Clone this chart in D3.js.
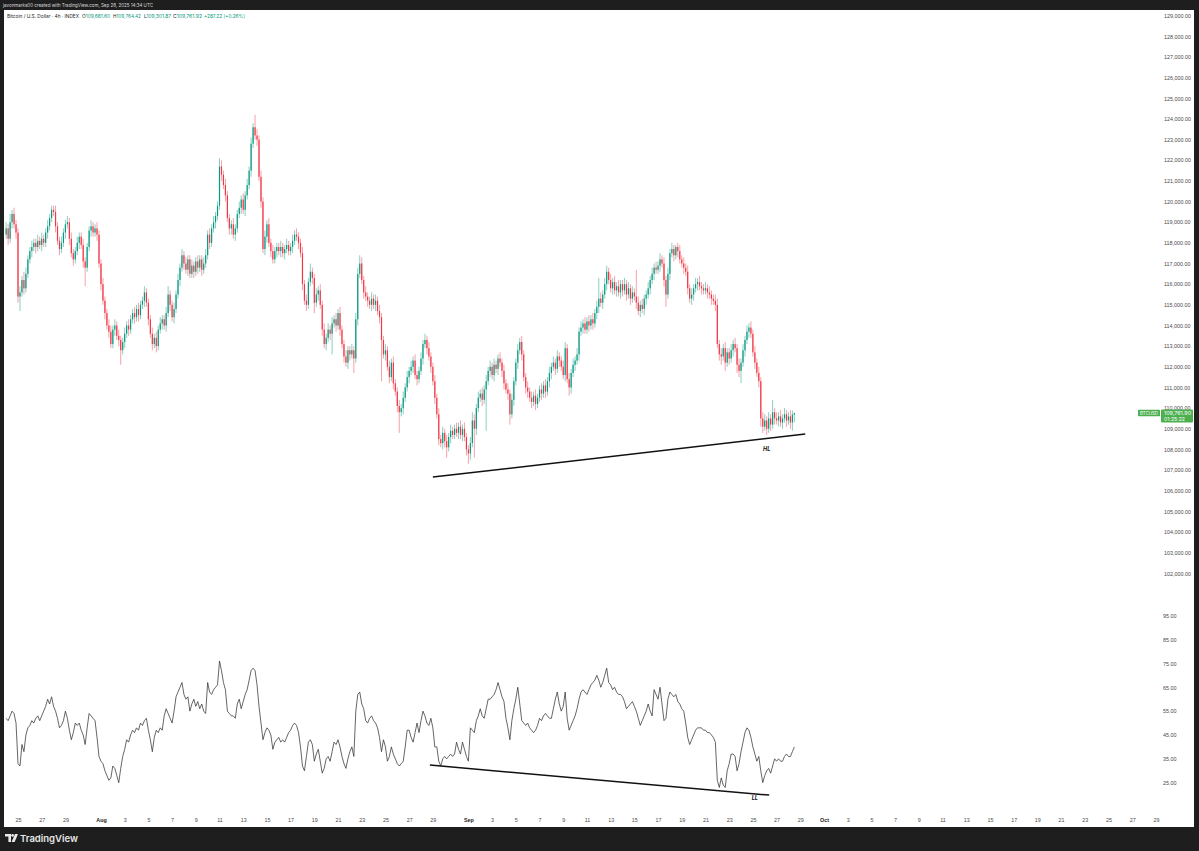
<!DOCTYPE html>
<html>
<head>
<meta charset="utf-8">
<script src="https://cdn.jsdelivr.net/npm/d3@7"></script>
<style>
  body { margin: 0; background: #1e1e1e; }
  svg { display: block; font-family: Inter, "Noto Sans", sans-serif; }
</style>
</head>
<body>
<svg id="chart" width="1199" height="851"></svg>
<script>
// BTC / USD index, 4h candles from 2025-07-24 00:00 UTC, prices in $100 units
const startTime = Date.UTC(2025, 6, 24)
const open0 = 1184
const close100 = [
  1187,1182,1190,1194,1189,1185, 1154,1156,1162,1158,1165,1172, 1176,1178,1180,1178,1181,1179,
  1182,1180,1185,1188,1192,1196, 1195,1188,1181,1177,1180,1185, 1189,1190,1182,1175,1172,1176,
  1180,1183,1179,1171,1168,1178, 1186,1188,1185,1187,1184,1170, 1160,1152,1146,1140,1137,1131,
  1138,1140,1135,1133,1128,1132, 1136,1140,1138,1143,1146,1144, 1148,1145,1150,1152,1156,1151,
  1143,1136,1131,1134,1130,1138, 1141,1143,1140,1146,1155,1150, 1144,1148,1155,1162,1168,1174,
  1170,1167,1172,1165,1169,1166, 1171,1168,1172,1167,1170,1174, 1184,1180,1187,1190,1193,1198,
  1217,1213,1208,1203,1192,1187, 1189,1184,1187,1194,1197,1201, 1196,1203,1208,1215,1228,1236,
  1232,1230,1212,1200,1177,1183, 1189,1180,1176,1172,1176,1178, 1176,1178,1175,1177,1179,1176,
  1178,1181,1184,1183,1180,1175, 1160,1152,1150,1161,1166,1163, 1151,1155,1157,1150,1138,1131,
  1134,1138,1136,1141,1143,1140, 1146,1138,1131,1125,1122,1128, 1126,1128,1124,1143,1165,1170,
  1162,1156,1154,1152,1150,1153, 1150,1152,1147,1144,1133,1126, 1128,1120,1115,1122,1112,1108,
  1101,1098,1100,1105,1110,1115, 1118,1120,1123,1116,1114,1118, 1124,1131,1133,1129,1125,1120,
  1113,1105,1097,1085,1083,1088, 1084,1081,1086,1089,1087,1090, 1088,1091,1087,1090,1086,1080,
  1078,1083,1094,1090,1100,1105, 1107,1104,1109,1113,1118,1120, 1116,1121,1119,1124,1122,1118,
  1112,1109,1107,1097,1104,1113, 1122,1128,1132,1126,1115,1110, 1108,1105,1103,1106,1102,1105,
  1109,1107,1111,1108,1113,1117, 1120,1122,1119,1125,1123,1120, 1116,1129,1114,1110,1117,1121,
  1123,1126,1137,1139,1141,1138, 1142,1140,1143,1141,1146,1149, 1153,1151,1155,1160,1166,1162,
  1158,1161,1157,1159,1156,1160, 1157,1160,1155,1158,1153,1156, 1154,1151,1147,1150,1148,1153,
  1155,1158,1162,1165,1168,1167, 1169,1172,1170,1162,1155,1165, 1175,1177,1174,1178,1176,1172,
  1170,1168,1166,1158,1153,1155, 1158,1160,1161,1159,1158,1157, 1158,1156,1155,1153,1152,1150,
  1131,1126,1125,1129,1122,1127, 1124,1128,1131,1129,1121,1118, 1122,1128,1133,1137,1139,1136,
  1127,1122,1117,1113,1095,1091, 1094,1090,1095,1092,1098,1095, 1094,1096,1093,1095,1097,1094,
  1096,1093,1096.816,1097.619
]
// wick length above / below the body, $100 units
const wickUp = [
  3,2,4,2,3,2, 2,3,2,4,3,2, 2,3,2,2,3,2,
  3,2,2,3,2,2, 2,3,2,2,3,2, 2,3,2,3,2,2,
  3,2,2,3,2,2, 2,3,2,2,3,2, 2,3,2,2,3,3,
  2,3,2,3,2,2, 3,2,3,2,2,3, 2,3,2,2,3,2,
  2,2,3,2,3,2, 3,2,2,3,4,2, 2,3,2,3,2,3,
  2,3,2,2,3,2, 2,3,2,2,3,3, 2,3,2,3,2,2,
  4,3,2,3,2,2, 2,3,2,2,3,2, 3,2,3,2,3,2,
  6,3,2,3,2,3, 2,3,2,3,2,2, 2,3,2,2,3,2,
  2,3,2,3,2,2, 3,2,3,2,4,2, 2,3,2,3,2,3,
  2,3,2,3,2,3, 2,3,2,2,3,2, 2,3,2,3,3,4,
  3,2,3,2,2,3, 2,3,2,3,2,2, 3,2,3,2,3,2,
  2,3,2,3,2,3, 2,3,2,3,2,2, 3,2,3,2,3,2,
  2,3,2,3,2,3, 2,3,2,3,2,2, 3,2,3,2,3,2,
  2,3,4,3,2,3, 2,3,2,3,2,3, 2,3,2,2,3,2,
  3,2,3,2,3,2, 2,3,2,3,2,2, 3,2,3,2,3,2,
  2,3,2,3,2,3, 2,3,2,3,2,2, 3,3,2,3,2,3,
  2,3,2,3,2,3, 2,3,2,3,2,3, 10,3,2,3,3,2,
  3,2,3,2,3,2, 2,3,2,3,2,3, 2,13,3,2,3,2,
  2,3,2,3,2,3, 2,3,2,3,2,3, 2,3,2,1,2,3,
  2,3,2,3,2,3, 2,3,2,3,2,2, 3,2,3,2,2,3,
  3,2,3,2,3,2, 2,3,2,3,2,3, 2,3,2,3,2,3,
  2,3,2,3,2,3, 3,2,3,2,6,2, 3,2,3,2,3,2,
  2,3,2,0.02
]
const wickDn = [
  2,3,2,3,2,3, 3,7,2,3,2,2, 2,3,2,3,2,2,
  3,2,2,3,2,2, 2,3,2,3,2,2, 3,2,3,2,3,2,
  2,3,2,3,9,2, 2,3,2,2,3,2, 3,2,3,2,3,2,
  2,3,2,3,7,2, 3,2,3,2,2,3, 2,3,2,2,3,2,
  3,2,3,2,3,2, 2,3,2,3,2,3, 2,3,2,2,3,2,
  3,2,3,2,2,3, 2,3,2,3,2,2, 2,3,2,2,3,2,
  2,3,2,3,2,3, 3,2,3,2,2,3, 2,3,2,2,3,2,
  2,3,2,3,2,3, 3,2,3,2,2,3, 2,3,2,3,2,2,
  2,3,2,2,3,2, 3,2,3,2,2,3, 5,2,3,2,3,2,
  3,2,3,10,2,3, 2,3,2,3,2,3, 3,2,7,2,3,2,
  2,3,2,3,2,3, 2,3,2,3,20,2, 3,2,3,2,3,2,
  3,10,2,3,2,2, 3,2,3,2,3,2, 2,3,2,3,2,3,
  2,3,2,3,2,3, 3,5,2,3,2,2, 2,3,2,3,2,3,
  5,3,2,14,3,2, 2,3,2,20,2,3, 2,3,2,3,2,3,
  3,2,3,5,2,3, 2,3,2,3,2,3, 3,2,3,2,3,2,
  2,3,2,3,2,3, 3,2,3,2,3,2, 2,3,2,4,3,2,
  3,2,3,2,3,2, 2,3,2,3,2,3, 3,2,3,2,3,2,
  2,3,2,3,2,3, 3,2,3,2,3,2, 2,3,2,3,2,3,
  3,2,3,2,3,2, 2,3,2,3,6,2, 3,2,3,2,3,2,
  2,3,2,3,2,3, 3,2,3,2,3,2, 2,3,2,3,2,3,
  2,3,4,2,4,2, 3,2,3,2,4,3, 6,2,3,2,3,2,
  2,3,2,3,4,3, 2,3,2,3,2,3, 2,3,2,3,2,3,
  2,3,4,3.8
]
// RSI, one value per candle
const rsi = [
  52,51,53,55,54,50, 33,32,41,38,45,48, 49,51,50,52,53,51,
  53,55,57,60,58,61, 57,55,52,48,49,51, 55,52,47,43,46,50,
  49,50,47,45,41,48, 54,53,52,51,44,36, 34,33,30,28,26,27,
  32,31,28,25,31,36, 39,43,42,45,47,46, 48,47,50,49,51,52,
  47,43,38,44,47,46, 48,47,53,56,54,52, 50,55,61,63,65,67,
  62,60,61,55,58,60, 57,59,56,58,55,54, 67,63,62,64,65,66,
  76,72,67,64,55,54, 53,53,52,58,60,56, 59,62,64,68,72,73,
  72,66,57,50,43,46, 48,47,45,39,42,43, 44,42,43,42,44,46,
  47,49,50,49,46,40, 32,30,36,42,43,41, 34,37,39,34,29,31,
  35,36,34,38,42,41, 43,40,36,33,31,35, 38,40,36,55,62,63,
  58,56,51,50,52,53, 51,50,48,44,38,43, 40,34,36,40,37,35,
  33,32,33,34,40,47, 47,44,42,46,50,46, 51,55,53,50,49,52,
  48,40,40,34,32,35, 36,35,36,37,36,37, 42,39,37,42,39,36,
  34,48,47,46,51,53, 56,53,52,56,60,60, 61,62,64,67,64,61,
  59,52,48,43,51,56, 60,65,58,51,50,49, 50,48,47,46,47,49,
  52,51,53,54,53,52, 52,56,60,63,58,55, 57,63,52,47,49,51,
  53,56,60,63,64,63, 62,64,66,67,68,70, 68,65,67,70,73,67,
  66,64,65,63,62,62, 61,59,56,57,58,59, 57,55,52,49,51,53,
  55,58,55,53,64,62, 60,65,58,51,52,60, 63,62,61,62,59,58,
  56,55,50,44,41,43, 45,47,48,48,48,47, 47,46,46,45,44,42,
  26,23,27,24,23,30, 33,37,37,36,30,33, 38,42,46,48,47,44,
  40,37,34,36,30,25, 28,30,31,29,32,35, 34,35,34,34,36,37,
  36,36,38,40
]

const priceTicks = d3.range(102000, 129001, 1000)
const rsiTicks = [25, 35, 45, 55, 65, 75, 85, 95]

// drawn annotations: [time, value]
const priceTrend = [[Date.UTC(2025, 7, 29, 0), 106660], [Date.UTC(2025, 8, 29, 10), 108740]]
const rsiTrend = [[Date.UTC(2025, 7, 28, 18), 32.4], [Date.UTC(2025, 8, 26, 9), 19.8]]
const notes = [
    { text: 'HL', t: Date.UTC(2025, 8, 26, 4), v: 108000, pane: 'price' },
    { text: 'LL', t: Date.UTC(2025, 8, 25, 4), v: 18.5, pane: 'rsi' }
]

const legend = {
    title: 'Bitcoin / U.S. Dollar · 4h · INDEX',
    o: '109,681.60', h: '109,764.42', l: '109,301.87', c: '109,761.92', chg: '+287.22 (+0.26%)'
}

const UP = '#089981', DOWN = '#f23645', LABEL_GREEN = '#4caf50'
const HOUR = 3600 * 1000

const svg = d3.select('#chart')

// frame
svg.append('rect').attr('width', 1199).attr('height', 851).attr('fill', '#1e1e1e')
svg.append('rect').attr('x', 4).attr('y', 10).attr('width', 1190).attr('height', 817).attr('fill', '#ffffff')

// scales
const x = d3.scaleUtc()
    .domain([new Date(Date.UTC(2025, 6, 25)), new Date(Date.UTC(2025, 9, 1))])
    .range([18, 824])
const y = d3.scaleLinear().domain([102000, 129000]).range([573.3, 15.7])
const yRsi = d3.scaleLinear().domain([25, 95]).range([782.7, 615.7])

const candles = close100.map((c, i) => {
    const o = i ? close100[i - 1] : open0
    return {
        t: new Date(startTime + i * 4 * HOUR),
        o: o * 100,
        c: c * 100,
        h: (Math.max(o, c) + wickUp[i]) * 100,
        l: (Math.min(o, c) - wickDn[i]) * 100
    }
})

// candles
const cg = svg.append('g').attr('class', 'candles')
const bars = cg.selectAll('g').data(candles).join('g')
bars.append('line')
    .attr('x1', d => x(d.t)).attr('x2', d => x(d.t))
    .attr('y1', d => y(d.h)).attr('y2', d => y(d.l))
    .attr('stroke', d => d.c >= d.o ? UP : DOWN)
    .attr('stroke-width', 0.6)
    .attr('stroke-opacity', 0.8)
bars.append('rect')
    .attr('x', d => x(d.t) - 0.6)
    .attr('width', 1.2)
    .attr('y', d => y(Math.max(d.o, d.c)))
    .attr('height', d => Math.max(0.7, Math.abs(y(d.o) - y(d.c))))
    .attr('fill', d => d.c >= d.o ? UP : DOWN)

// rsi line
const rsiLine = d3.line()
    .x((d, i) => x(candles[i].t))
    .y(d => yRsi(d))
svg.append('path').datum(rsi)
    .attr('d', rsiLine)
    .attr('fill', 'none')
    .attr('stroke', '#333')
    .attr('stroke-width', 0.75)
    .attr('stroke-linejoin', 'round')

// trend lines
svg.append('line')
    .attr('x1', x(priceTrend[0][0])).attr('y1', y(priceTrend[0][1]))
    .attr('x2', x(priceTrend[1][0])).attr('y2', y(priceTrend[1][1]))
    .attr('stroke', '#111').attr('stroke-width', 1.5)
svg.append('line')
    .attr('x1', x(rsiTrend[0][0])).attr('y1', yRsi(rsiTrend[0][1]))
    .attr('x2', x(rsiTrend[1][0])).attr('y2', yRsi(rsiTrend[1][1]))
    .attr('stroke', '#111').attr('stroke-width', 1.5)

svg.selectAll('.note').data(notes).join('text').attr('class', 'note')
    .attr('x', d => x(d.t))
    .attr('y', d => (d.pane === 'price' ? y(d.v) : yRsi(d.v)) + 2)
    .attr('text-anchor', 'middle')
    .style('font-size', '5.5px')
    .style('font-weight', 'bold')
    .style('font-style', 'italic')
    .attr('fill', '#111')
    .text(d => d.text)

// price axis
const priceAxis = svg.append('g')
    .attr('transform', 'translate(1164,0)')
    .call(d3.axisRight(y).tickValues(priceTicks).tickFormat(d3.format(',.2f')).tickSize(0).tickPadding(0))
priceAxis.select('.domain').remove()
priceAxis.selectAll('text').style('font-size', '5.4px').attr('fill', '#4a4a4a').attr('font-family', null)

// rsi axis
const rsiAxis = svg.append('g')
    .attr('transform', 'translate(1163,0)')
    .call(d3.axisRight(yRsi).tickValues(rsiTicks).tickFormat(d3.format('.2f')).tickSize(0).tickPadding(0))
rsiAxis.select('.domain').remove()
rsiAxis.selectAll('text').style('font-size', '5.4px').attr('fill', '#4a4a4a').attr('font-family', null)

// date axis
const dateTicks = d3.utcDay.range(new Date(Date.UTC(2025, 6, 25)), new Date(Date.UTC(2025, 9, 30)))
    .filter(d => d.getUTCDate() % 2 === 1 && d.getUTCDate() !== 31)
const dateAxis = svg.append('g')
    .attr('transform', 'translate(0,818)')
    .call(d3.axisBottom(x).tickValues(dateTicks)
        .tickFormat(d => d.getUTCDate() === 1 ? d3.utcFormat('%b')(d) : d3.utcFormat('%-d')(d))
        .tickSize(0).tickPadding(0))
dateAxis.select('.domain').remove()
dateAxis.selectAll('text')
    .attr('font-family', null)
    .style('font-size', '5.4px')
    .attr('fill', d => d.getUTCDate() === 1 ? '#222' : '#4a4a4a')
    .style('font-weight', d => d.getUTCDate() === 1 ? 'bold' : 'normal')

// last price label
const last = candles[candles.length - 1]
const ly = y(last.c)
svg.append('rect').attr('x', 1138).attr('y', ly - 3.3).attr('width', 22).attr('height', 6.6).attr('rx', 0.8).attr('fill', LABEL_GREEN)
svg.append('text').attr('x', 1149).attr('y', ly + 1.6).attr('text-anchor', 'middle')
    .style('font-size', '4.4px').attr('fill', '#fff').text('BTCUSD')
svg.append('rect').attr('x', 1161).attr('y', ly - 3.6).attr('width', 32).attr('height', 13).attr('rx', 0.8).attr('fill', LABEL_GREEN)
svg.append('text').attr('x', 1164).attr('y', ly + 1.8)
    .style('font-size', '5.4px').attr('fill', '#fff').text(d3.format(',.2f')(last.c))
svg.append('text').attr('x', 1164).attr('y', ly + 7.8)
    .style('font-size', '5.2px').attr('fill', '#fff').text('01:25:22')

// header
svg.append('text').attr('x', 3).attr('y', 7)
    .attr('textLength', 150).attr('lengthAdjust', 'spacingAndGlyphs')
    .style('font-size', '5.2px').attr('fill', '#d8d8d8')
    .text('javonmarks00 created with TradingView.com, Sep 28, 2025 14:34 UTC')

const head = [
    { x: 7, w: 72, parts: [[legend.title, '#222']] },
    { x: 82, w: 28, parts: [['O', '#222'], [legend.o, UP]] },
    { x: 113, w: 28, parts: [['H', '#222'], [legend.h, UP]] },
    { x: 144, w: 27, parts: [['L', '#222'], [legend.l, UP]] },
    { x: 173, w: 29, parts: [['C', '#222'], [legend.c, UP]] },
    { x: 204, w: 41, parts: [[legend.chg, UP]] }
]
head.forEach(h => {
    const t = svg.append('text').attr('x', h.x).attr('y', 18).style('font-size', '5px')
        .attr('textLength', h.w).attr('lengthAdjust', 'spacingAndGlyphs')
    h.parts.forEach(p => t.append('tspan').attr('fill', p[1]).text(p[0]))
})

// TradingView mark
const logo = svg.append('g').attr('transform', 'translate(5,834)').attr('fill', '#e8e8e8')
logo.append('path').attr('d', 'M0,0 H6 V8 H3.4 V2.6 H0 Z')
logo.append('circle').attr('cx', 7.6).attr('cy', 1.4).attr('r', 1.4)
logo.append('path').attr('d', 'M10,0 H13 L9.6,8 H6.6 Z')
svg.append('text').attr('x', 20).attr('y', 841.5)
    .style('font-size', '9.5px').style('font-weight', '600').attr('fill', '#e8e8e8')
    .text('TradingView')
</script>
</body>
</html>
